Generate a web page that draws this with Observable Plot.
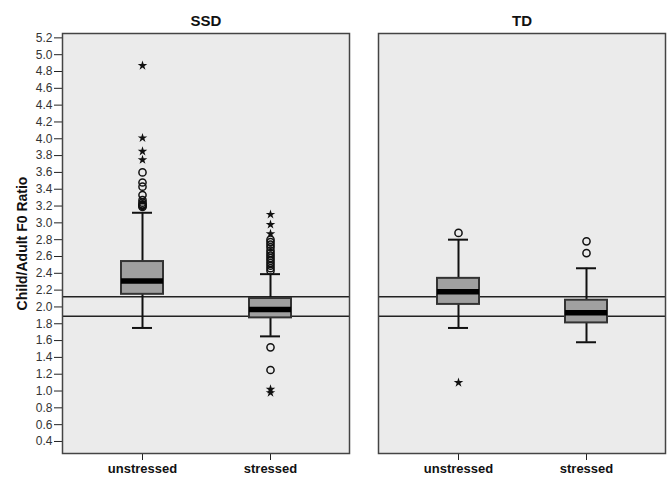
<!DOCTYPE html>
<html>
<head>
<meta charset="utf-8">
<script src="https://cdn.jsdelivr.net/npm/d3@7"></script>
<script src="https://cdn.jsdelivr.net/npm/@observablehq/plot@0.6"></script>
<style>
  html, body { margin: 0; padding: 0; background: #fff; }
  #chart svg { font-family: "Liberation Sans", Arial, sans-serif; }
  g[aria-label^="fx-axis"] text { font-weight: bold; font-size: 15px; fill: #111; }
  g[aria-label^="x-axis"] text { font-weight: bold; font-size: 13px; fill: #111; }
  g[aria-label^="y-axis"] text { font-size: 12px; fill: #333; }
  [aria-label="y-axis label"], [aria-label="y-axis label"] text, text.ylab { font-weight: bold !important; font-size: 14px !important; fill: #111 !important; }
</style>
</head>
<body>
<div id="chart"></div>
<script>
// Panels and categories
const panels = ["SSD", "TD"];
const conditions = ["unstressed", "stressed"];

// Box summaries (one entry per box)
const boxGroup     = ["SSD", "SSD", "TD", "TD"];
const boxCondition = ["unstressed", "stressed", "unstressed", "stressed"];
const whiskerLow   = [1.75, 1.65, 1.75, 1.58];
const quartile1    = [2.15, 1.87, 2.03, 1.81];
const medians      = [2.31, 1.97, 2.18, 1.93];
const quartile3    = [2.54, 2.10, 2.34, 2.08];
const whiskerHigh  = [3.12, 2.39, 2.80, 2.46];

// Horizontal reference lines
const referenceLines = [2.12, 1.89];

// Outliers: circles (mild) and stars (extreme)
const ssdUnstressedCircles = [3.60, 3.48, 3.43, 3.33, 3.27, 3.24, 3.22, 3.21, 3.20, 3.19];
const ssdUnstressedStars   = [4.87, 4.01, 3.85, 3.75];
const ssdStressedCircles   = [2.80, 2.77, 2.74, 2.71, 2.67, 2.64, 2.61, 2.58, 2.55, 2.52, 2.49, 2.46, 2.43, 1.52, 1.25];
const ssdStressedStars     = [3.10, 2.98, 2.87, 1.02, 0.98];
const tdUnstressedCircles  = [2.88];
const tdUnstressedStars    = [1.10];
const tdStressedCircles    = [2.78, 2.64];
const tdStressedStars      = [];

// Axis ticks
const yTicks = [0.4, 0.6, 0.8, 1.0, 1.2, 1.4, 1.6, 1.8, 2.0, 2.2, 2.4, 2.6, 2.8, 3.0, 3.2, 3.4, 3.6, 3.8, 4.0, 4.2, 4.4, 4.6, 4.8, 5.0, 5.2];
const yLabel = "Child/Adult F0 Ratio";

// Build tables
const boxes = boxGroup.map((g, i) => ({
  group: g, condition: boxCondition[i],
  lo: whiskerLow[i], q1: quartile1[i], med: medians[i], q3: quartile3[i], hi: whiskerHigh[i]
}));
const toRows = (arr, group, condition) => arr.map(v => ({group, condition, value: v}));
const circles = [
  ...toRows(ssdUnstressedCircles, "SSD", "unstressed"),
  ...toRows(ssdStressedCircles, "SSD", "stressed"),
  ...toRows(tdUnstressedCircles, "TD", "unstressed"),
  ...toRows(tdStressedCircles, "TD", "stressed")
];
const stars = [
  ...toRows(ssdUnstressedStars, "SSD", "unstressed"),
  ...toRows(ssdStressedStars, "SSD", "stressed"),
  ...toRows(tdUnstressedStars, "TD", "unstressed"),
  ...toRows(tdStressedStars, "TD", "stressed")
];

const chart = Plot.plot({
  width: 669,
  height: 477,
  marginLeft: 62,
  marginRight: 3,
  marginTop: 33,
  marginBottom: 24,
  style: { fontFamily: "Liberation Sans, Arial, sans-serif", fontSize: "11px", color: "#222", background: "#fff" },
  fx: { domain: panels, paddingInner: 0.0916, paddingOuter: 0, axis: "top", label: null, tickSize: 0, tickPadding: 8 },
  x: { domain: conditions, paddingInner: 0.675, paddingOuter: 0.453, label: null, tickSize: 7, tickPadding: 3 },
  y: { domain: [0.257, 5.252], ticks: yTicks, tickFormat: ".1f", tickSize: 8, tickPadding: 2,
       label: yLabel, labelAnchor: "center", labelOffset: 45, labelArrow: false },
  marks: [
    Plot.frame({ fill: "#ebebeb" }),
    Plot.ruleY(referenceLines, { stroke: "#222", strokeWidth: 1.5 }),
    Plot.ruleX(boxes, { fx: "group", x: "condition", y1: "lo", y2: "hi", stroke: "#111", strokeWidth: 2 }),
    Plot.tickY(boxes, { fx: "group", x: "condition", y: "lo", insetLeft: 11, insetRight: 11, stroke: "#111", strokeWidth: 2 }),
    Plot.tickY(boxes, { fx: "group", x: "condition", y: "hi", insetLeft: 11, insetRight: 11, stroke: "#111", strokeWidth: 2 }),
    Plot.barY(boxes, { fx: "group", x: "condition", y1: "q1", y2: "q3", fill: "#a0a0a0", stroke: "#333", strokeWidth: 2 }),
    Plot.tickY(boxes, { fx: "group", x: "condition", y: "med", stroke: "#000", strokeWidth: 5.5 }),
    Plot.dot(circles, { fx: "group", x: "condition", y: "value", r: 3.6, fill: "none", stroke: "#111", strokeWidth: 1.5 }),
    Plot.dot(stars, { fx: "group", x: "condition", y: "value", symbol: "star", r: 3, fill: "#111", stroke: "none" }),
    Plot.frame({ stroke: "#444", strokeWidth: 1.5 })
  ]
});
// Mark the y-axis title text so the stylesheet can make it bold
chart.querySelectorAll("text").forEach(t => { if (t.textContent.trim() === yLabel) t.classList.add("ylab"); });
document.getElementById("chart").appendChild(chart);
</script>
</body>
</html>
